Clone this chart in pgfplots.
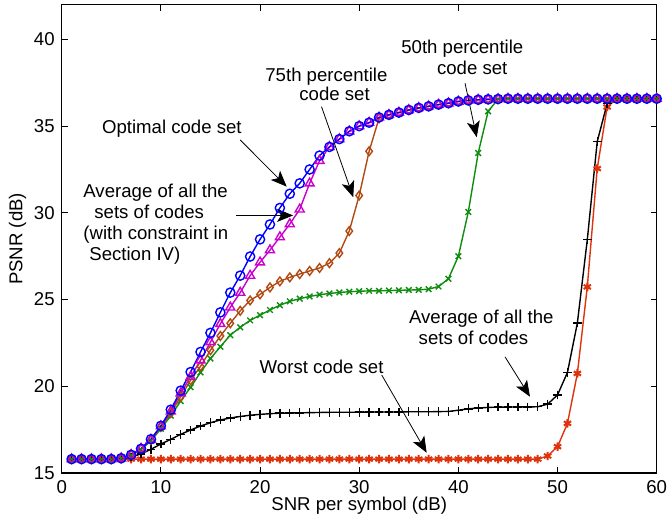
\documentclass[border=0pt]{standalone}
\usepackage{fontspec}
\setmainfont{Liberation Sans}
\usepackage{pgfplots}
\pgfplotsset{compat=1.18}
\usetikzlibrary{arrows.meta}
\definecolor{cblue}{rgb}{0,0,1}
\definecolor{cmag}{rgb}{0.8,0,0.8}
\definecolor{cbrown}{rgb}{0.69,0.29,0.07}
\definecolor{cgreen}{rgb}{0.05,0.55,0.05}
\definecolor{cred}{rgb}{0.87,0.2,0.05}
\newcommand{\fnt}{\fontsize{9.3}{11}\selectfont}
\begin{document}
\begin{tikzpicture}
\begin{axis}[name=ax, scale only axis, width=297.5pt, height=234.15pt,
  xmin=0, xmax=60, ymin=15, ymax=42,
  xtick={0,10,...,60}, ytick={15,20,...,40},
  tick align=inside, major tick length=3pt,
  axis line style={line width=0.6pt},
  every tick/.style={black, line width=0.5pt},
  tick label style={font=\fnt},
  /pgf/number format/assume math mode=true,
  every axis plot/.append style={line width=0.7pt},
  clip=false]
\addplot[cred, mark=asterisk, mark size=2.1pt, mark options={line width=1pt}] coordinates {
(1,15.8)(2,15.8)(3,15.8)(4,15.8)(5,15.8)(6,15.8)(7,15.8)(8,15.8)(9,15.8)(10,15.8)
(11,15.8)(12,15.8)(13,15.8)(14,15.8)(15,15.8)(16,15.8)(17,15.8)(18,15.8)(19,15.8)(20,15.8)
(21,15.8)(22,15.8)(23,15.8)(24,15.8)(25,15.8)(26,15.8)(27,15.8)(28,15.8)(29,15.8)(30,15.8)
(31,15.8)(32,15.8)(33,15.8)(34,15.8)(35,15.8)(36,15.8)(37,15.8)(38,15.8)(39,15.8)(40,15.8)
(41,15.8)(42,15.8)(43,15.8)(44,15.8)(45,15.8)(46,15.8)(47,15.8)(48,15.8)(49,15.98)(50,16.52)
(51,17.86)(52,20.74)(53,25.73)(54,32.55)(55,36.1)(56,36.58)(57,36.58)(58,36.58)(59,36.58)(60,36.58)};
\addplot[black, mark=+, mark size=2.2pt] coordinates {
(1,15.8)(2,15.8)(3,15.8)(4,15.8)(5,15.8)(6,15.82)(7,15.92)(8,16.1)(9,16.37)(10,16.67)
(11,16.94)(12,17.23)(13,17.48)(14,17.71)(15,17.9)(16,18.06)(17,18.17)(18,18.26)(19,18.33)(20,18.38)
(21,18.42)(22,18.45)(23,18.46)(24,18.47)(25,18.48)(26,18.49)(27,18.5)(28,18.5)(29,18.5)(30,18.51)
(31,18.51)(32,18.52)(33,18.52)(34,18.52)(35,18.53)(36,18.53)(37,18.53)(38,18.54)(39,18.55)(40,18.62)
(41,18.7)(42,18.75)(43,18.78)(44,18.8)(45,18.8)(46,18.81)(47,18.81)(48,18.82)(49,18.97)(50,19.5)
(51,20.8)(52,23.65)(53,28.45)(54,34.1)(55,36.3)(56,36.58)(57,36.58)(58,36.58)(59,36.58)(60,36.58)};
\addplot[cgreen, mark=x, mark size=2pt] coordinates {
(1,15.8)(2,15.8)(3,15.8)(4,15.8)(5,15.8)(6,15.85)(7,16.02)(8,16.35)(9,16.85)(10,17.55)
(11,18.3)(12,19.15)(13,19.95)(14,20.8)(15,21.6)(16,22.28)(17,22.95)(18,23.4)(19,23.8)(20,24.1)
(21,24.4)(22,24.67)(23,24.9)(24,25.05)(25,25.18)(26,25.28)(27,25.35)(28,25.41)(29,25.45)(30,25.48)
(31,25.5)(32,25.5)(33,25.52)(34,25.53)(35,25.55)(36,25.56)(37,25.6)(38,25.75)(39,26.2)(40,27.5)
(41,30.05)(42,33.45)(43,35.85)(44,36.56)(45,36.58)(46,36.58)(47,36.58)(48,36.58)(49,36.58)(50,36.58)
(51,36.58)(52,36.58)(53,36.58)(54,36.58)(55,36.58)(56,36.58)(57,36.58)(58,36.58)(59,36.58)(60,36.58)};
\addplot[cbrown, mark=diamond, mark size=2.2pt] coordinates {
(1,15.8)(2,15.8)(3,15.8)(4,15.8)(5,15.8)(6,15.85)(7,16.05)(8,16.4)(9,16.9)(10,17.65)
(11,18.45)(12,19.4)(13,20.35)(14,21.15)(15,22.08)(16,22.9)(17,23.63)(18,24.35)(19,24.95)(20,25.3)
(21,25.7)(22,26.05)(23,26.28)(24,26.47)(25,26.65)(26,26.82)(27,27.1)(28,27.68)(29,28.95)(30,31.0)
(31,33.55)(32,35.45)(33,35.65)(34,35.78)(35,35.93)(36,36.05)(37,36.14)(38,36.24)(39,36.32)(40,36.42)
(41,36.48)(42,36.52)(43,36.54)(44,36.56)(45,36.58)(46,36.58)(47,36.58)(48,36.58)(49,36.58)(50,36.58)
(51,36.58)(52,36.58)(53,36.58)(54,36.58)(55,36.58)(56,36.58)(57,36.58)(58,36.58)(59,36.58)(60,36.58)};
\addplot[cmag, mark=triangle, mark size=2.6pt] coordinates {
(1,15.8)(2,15.8)(3,15.8)(4,15.8)(5,15.8)(6,15.85)(7,16.05)(8,16.4)(9,16.92)(10,17.7)
(11,18.55)(12,19.6)(13,20.55)(14,21.5)(15,22.55)(16,23.6)(17,24.55)(18,25.4)(19,26.38)(20,27.15)
(21,27.85)(22,28.6)(23,29.35)(24,30.2)(25,31.7)(26,33.0)(27,33.8)(28,34.25)(29,34.7)(30,35.0)
(31,35.2)(32,35.5)(33,35.65)(34,35.78)(35,35.93)(36,36.05)(37,36.14)(38,36.24)(39,36.32)(40,36.42)
(41,36.48)(42,36.52)(43,36.54)(44,36.56)(45,36.58)(46,36.58)(47,36.58)(48,36.58)(49,36.58)(50,36.58)
(51,36.58)(52,36.58)(53,36.58)(54,36.58)(55,36.58)(56,36.58)(57,36.58)(58,36.58)(59,36.58)(60,36.58)};
\addplot[cblue, mark=o, mark size=2.3pt] coordinates {
(1,15.8)(2,15.8)(3,15.8)(4,15.8)(5,15.8)(6,15.85)(7,16.05)(8,16.4)(9,16.95)(10,17.72)
(11,18.65)(12,19.75)(13,20.82)(14,21.98)(15,23.08)(16,24.26)(17,25.4)(18,26.38)(19,27.48)(20,28.47)
(21,29.33)(22,30.28)(23,31.1)(24,31.7)(25,32.5)(26,33.3)(27,33.8)(28,34.25)(29,34.7)(30,35.0)
(31,35.2)(32,35.5)(33,35.65)(34,35.78)(35,35.93)(36,36.05)(37,36.14)(38,36.24)(39,36.32)(40,36.42)
(41,36.48)(42,36.52)(43,36.54)(44,36.56)(45,36.58)(46,36.58)(47,36.58)(48,36.58)(49,36.58)(50,36.58)
(51,36.58)(52,36.58)(53,36.58)(54,36.58)(55,36.58)(56,36.58)(57,36.58)(58,36.58)(59,36.58)(60,36.58)};
% annotations
\begin{scope}[every node/.style={font=\fnt, inner sep=0pt, anchor=base west},
  arr/.style={-{Stealth[length=8pt,width=6.5pt,inset=2pt]}, line width=0.4pt, black}]
\node at (axis cs:4.03,34.55) {Optimal code set};
\node at (axis cs:2.15,30.86) {Average of all the};
\node at (axis cs:3.26,29.66) {sets of codes};
\node at (axis cs:2.15,28.47) {(with constraint in};
\node at (axis cs:2.75,27.28) {Section IV)};
\node at (axis cs:20.5,37.6) {75th percentile};
\node at (axis cs:23.93,36.47) {code set};
\node at (axis cs:34.21,39.2) {50th percentile};
\node at (axis cs:37.81,38.0) {code set};
\node at (axis cs:19.93,20.75) {Worst code set};
\node at (axis cs:34.99,23.63) {Average of all the};
\node at (axis cs:35.96,22.42) {sets of codes};
\draw[arr] (axis cs:18.0,34.2) -- (axis cs:22.69,31.51);
\draw[arr] (axis cs:17.6,29.85) -- (axis cs:23.33,29.85);
\draw[arr] (axis cs:26.2,36.12) -- (axis cs:29.4,30.9);
\draw[arr] (axis cs:40.67,37.47) -- (axis cs:41.85,34.36);
\draw[arr] (axis cs:32.27,20.65) -- (axis cs:36.8,16.17);
\draw[arr] (axis cs:44.7,21.7) -- (axis cs:47.22,19.4);
\end{scope}
\end{axis}
\node[font=\fnt, anchor=base, inner sep=0pt] at ([yshift=-18.85pt]ax.south) {SNR per symbol (dB)};
\node[font=\fnt, anchor=base, inner sep=0pt, rotate=90] at ([xshift=-19.6pt]ax.west) {PSNR (dB)};
\pgfresetboundingbox
\useasboundingbox ([shift={(-30.85pt,-24.5pt)}]ax.south west) rectangle ([shift={(5.65pt,2.35pt)}]ax.north east);
\end{tikzpicture}
\end{document}
